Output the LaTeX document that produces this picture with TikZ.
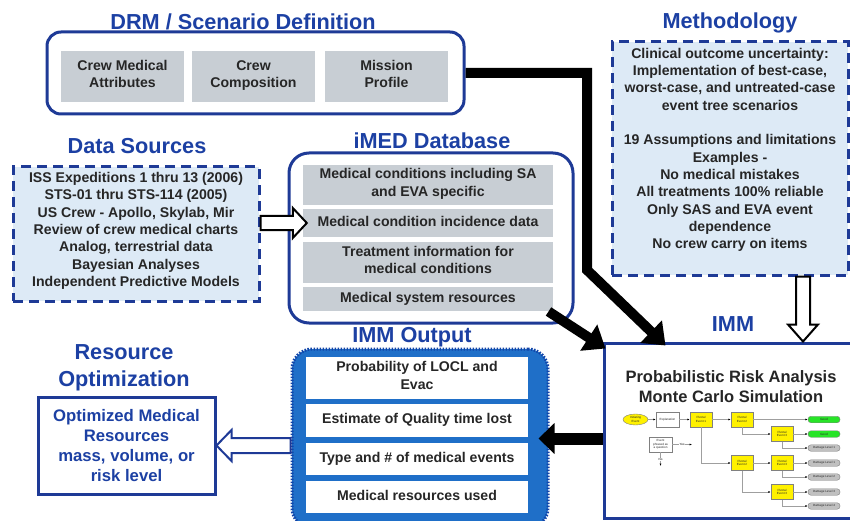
\documentclass[tikz,border=0pt]{standalone}
\usepackage{fontspec}
\setmainfont{Liberation Sans}
\usetikzlibrary{shapes,arrows.meta,calc,positioning}
\definecolor{tblue}{RGB}{28,64,163}
\definecolor{bblue}{RGB}{30,58,150}
\definecolor{gfill}{RGB}{200,206,212}
\definecolor{lfill}{RGB}{221,234,246}
\definecolor{oblue}{RGB}{31,111,200}
\definecolor{dblue}{RGB}{18,68,168}
\definecolor{dtext}{RGB}{38,38,38}
\definecolor{pyel}{RGB}{255,241,0}
\definecolor{pgrn}{RGB}{40,228,40}
\definecolor{pgry}{RGB}{192,192,192}
\tikzset{
	ttl/.style={text=tblue, font=\fontsize{21.7}{27}\selectfont\bfseries, align=center, inner sep=0pt},
	body/.style={text=dtext, font=\fontsize{14.1}{17.3}\selectfont\bfseries, align=center, inner sep=0pt,
		execute at begin node=\strut, execute at end node=\strut},
	graybox/.style={body, fill=gfill, minimum width=123pt, minimum height=51pt},
	rowbox/.style={body, fill=gfill, minimum width=250pt},
	whiterow/.style={body, fill=white, minimum width=222pt},
	dashbox/.style={draw=bblue, fill=lfill, line width=3pt, dash pattern=on 10pt off 6pt},
	rbox/.style={draw=bblue, line width=3pt, rounded corners=#1},
	blk/.style={line width=10pt, line join=miter, -{Triangle[length=20pt,width=30pt]}},
	oarrow/.style={draw=black, fill=white, line width=2pt, line join=miter},
	ev/.style={draw=gray, line width=0.4pt, inner sep=0pt, align=center, font=\fontsize{3}{3.5}\selectfont, text=dtext},
	piv/.style={ev, fill=pyel, minimum width=22pt, minimum height=15pt},
	endg/.style={ev, fill=pgrn, rounded corners=3pt, minimum width=32pt, minimum height=6.5pt},
	endd/.style={ev, fill=pgry, rounded corners=3pt, minimum width=32pt, minimum height=6.5pt},
	tl/.style={draw=gray!75, line width=0.6pt, -{Latex[length=2.5pt,width=2pt,color=black]}}
}
\begin{document}
\begin{tikzpicture}[x=1pt,y=-1pt]
	\clip (0,0) rectangle (850,521);
	\node[ttl] (drmt) at (243,22) {DRM / Scenario Definition};
	\node[ttl] (metht) at (730,23) {Methodology};
	\node[ttl] (dst) at (137,146) {Data Sources};
	\node[ttl] (imedt) at (432,141) {iMED Database};
	\node[ttl] (outt) at (412,337) {IMM Output};
	\node[ttl] (rest) at (124,368) {Resource\\Optimization};
	\node[ttl] (immt) at (733,324) {IMM};

	\node[rbox=14pt, minimum width=417pt, minimum height=82pt] (drm) at (255.5,73) {};
	\node[graybox] (attr) at (122.5,76.5) {Crew Medical\\Attributes};
	\node[graybox] (comp) at (253.5,76.5) {Crew\\Composition};
	\node[graybox] (prof) at (386.5,76.5) {Mission\\Profile};

	\node[dashbox, minimum width=236pt, minimum height=233pt] (meth) at (730,158.5) {};
	\node[body] (methx) at (730,151) {Clinical outcome uncertainty:\\Implementation of best-case,\\worst-case, and untreated-case\\event tree scenarios\\[17.3pt]19 Assumptions and limitations\\Examples -\\No medical mistakes\\All treatments 100\% reliable\\Only SAS and EVA event\\dependence\\No crew carry on items};

	\node[dashbox, minimum width=246pt, minimum height=134pt] (ds) at (136,234) {};
	\node[body] (dsx) at (136,232) {ISS Expeditions 1 thru 13 (2006)\\STS-01 thru STS-114 (2005)\\US Crew - Apollo, Skylab, Mir\\Review of crew medical charts\\Analog, terrestrial data\\Bayesian Analyses\\Independent Predictive Models};

	\node[rbox=20pt, minimum width=284pt, minimum height=170pt] (imed) at (431,238) {};
	\node[rowbox, minimum height=40pt] (r1) at (428,185) {Medical conditions including SA\\and EVA specific};
	\node[rowbox, minimum height=28pt] (r2) at (428,223) {Medical condition incidence data};
	\node[rowbox, minimum height=41pt] (r3) at (428,262.5) {Treatment information for\\medical conditions};
	\node[rowbox, minimum height=24pt] (r4) at (428,299) {Medical system resources};

	\node[fill=oblue, draw=dblue, line width=3pt, dash pattern=on 1.5pt off 1.5pt, rounded corners=20pt, minimum width=256pt, minimum height=179pt] (outbox) at (420,438.5) {};
	\node[whiterow, minimum height=42pt] (out1) at (417,378) {Probability of LOCL and\\Evac};
	\node[whiterow, minimum height=33pt] (out2) at (417,420.5) {Estimate of Quality time lost};
	\node[whiterow, minimum height=32pt] (out3) at (417,459) {Type and \# of medical events};
	\node[whiterow, minimum height=32pt] (out4) at (417,497) {Medical resources used};

	\node[draw=bblue, line width=3pt, fill=white, minimum width=177pt, minimum height=97pt, text=tblue, font=\fontsize{16.7}{20.3}\selectfont\bfseries, align=center] (res) at (126.5,445.5) {Optimized Medical\\Resources\\mass, volume, or\\risk level};

	\node[draw=bblue, line width=3pt, fill=white, minimum width=254pt, minimum height=175pt] (imm) at (731,430.5) {};
	\node[text=dtext, font=\fontsize{16.5}{20}\selectfont\bfseries, align=center, inner sep=0pt] (pra) at (731,387) {Probabilistic Risk Analysis\\Monte Carlo Simulation};

	\node[ev, ellipse, fill=pyel, minimum width=25pt, minimum height=11pt] (ie) at (635.5,419.5) {Initiating\\Event};
	\node[ev, fill=white, minimum width=23pt, minimum height=15pt] (expl) at (667.5,419.5) {Explanation};
	\node[piv] (pv1) at (701,419.5) {Pivotal\\Event 1};
	\node[piv] (pv2a) at (742,419.5) {Pivotal\\Event 2};
	\node[endg] (g1) at (824,419.5) {Good};
	\node[piv] (pv3a) at (782,434) {Pivotal\\Event 3};
	\node[endg] (g2) at (824,434) {Good};
	\node[endd] (dl1a) at (824,448) {Damage Level 1};
	\node[piv] (pv2b) at (742,463) {Pivotal\\Event 2};
	\node[piv] (pv3b) at (782,463) {Pivotal\\Event 3};
	\node[endd] (dl1b) at (824,463) {Damage Level 1};
	\node[endd] (dl2) at (824,477) {Damage Level 2};
	\node[piv] (pv3c) at (782,492) {Pivotal\\Event 3};
	\node[endd] (dl3) at (824,492) {Damage Level 3};
	\node[endd] (dl4) at (824,506) {Damage Level 4};
	\node[ev, fill=white, minimum width=23pt, minimum height=15pt] (qst) at (660.5,444.5) {Event\\phrased as\\a question};
	\coordinate (yes) at (692,444.5);
	\coordinate (no) at (660.5,466);

	\draw[tl] (ie) -- (expl);
	\draw[tl] (expl) -- (pv1);
	\draw[tl] (pv1) -- (pv2a);
	\draw[tl] (pv2a) -- (g1);
	\draw[tl] (pv2a.south) |- (pv3a.west);
	\draw[tl] (pv3a) -- (g2);
	\draw[tl] (pv3a.south) |- (dl1a.west);
	\draw[tl] (pv1.south) |- (pv2b.west);
	\draw[tl] (pv2b) -- (pv3b);
	\draw[tl] (pv3b) -- (dl1b);
	\draw[tl] (pv3b.south) |- (dl2.west);
	\draw[tl] (pv2b.south) |- (pv3c.west);
	\draw[tl] (pv3c) -- (dl3);
	\draw[tl] (pv3c.south) |- (dl4.west);
	\draw[tl] (qst.east) -- node[fill=white, inner sep=0.5pt, font=\fontsize{3}{3}\selectfont] {Yes} (yes);
	\draw[tl] (qst.south) -- node[fill=white, inner sep=0.5pt, font=\fontsize{3}{3}\selectfont] {No} (no);

	\coordinate (bend1) at (587,73);
	\coordinate (bend2) at (587,270);
	\draw[blk] (drm.east) -- (bend1) -- (bend2) -- ($(imm.north west)+(63,4)$);
	\draw[blk] ($(imed.south east)+(-26,-13)$) -- ($(imm.north west)+(3,7)$);
	\draw[line width=12pt, -{Triangle[length=16pt,width=30pt]}] (imm.west |- outbox.east) -- ($(outbox.east)+(-11,0)$);

	\coordinate (a1) at (ds.east |- r2.west);
	\coordinate (a2) at ($(r2.west)+(4,0)$);
	\draw[oarrow] ($(a1)+(0,-7)$) -- ($(a2)+(-14,-7)$) -- ($(a2)+(-14,-15)$) -- (a2) -- ($(a2)+(-14,15)$) -- ($(a2)+(-14,7)$) -- ($(a1)+(0,7)$) -- cycle;
	\coordinate (m1) at ($(meth.south)+(73,0)$);
	\coordinate (m2) at (m1 |- imm.north);
	\draw[oarrow] ($(m1)+(-7,0)$) -- ($(m2)+(-7,-17)$) -- ($(m2)+(-15,-17)$) -- (m2) -- ($(m2)+(15,-17)$) -- ($(m2)+(7,-17)$) -- ($(m1)+(7,0)$) -- cycle;
	\coordinate (b1) at (outbox.west |- res.east);
	\coordinate (b2) at (res.east);
	\draw[oarrow, draw=bblue] ($(b1)+(0,-7.5)$) -- ($(b2)+(15,-7.5)$) -- ($(b2)+(15,-15.5)$) -- (b2) -- ($(b2)+(15,15.5)$) -- ($(b2)+(15,7.5)$) -- ($(b1)+(0,7.5)$) -- cycle;
\end{tikzpicture}
\end{document}
